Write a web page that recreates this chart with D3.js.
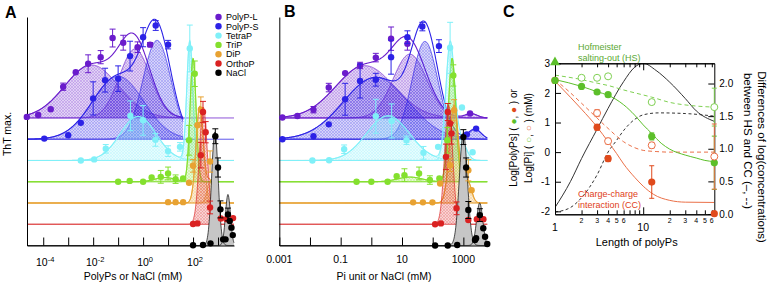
<!DOCTYPE html>
<html><head><meta charset="utf-8">
<script src="https://cdn.jsdelivr.net/npm/d3@7"></script>
<style>body{margin:0;background:#fff}svg{display:block;font-family:"Liberation Sans",Arial,Helvetica,sans-serif}</style>
</head><body><svg id="c" width="767" height="286"></svg>
<script>
// ---------- series ----------
const seriesNames = ["PolyP-L","PolyP-S","TetraP","TriP","DiP","OrthoP","NaCl"];
const seriesColors = ["#6a1ccc","#2c22e6","#80f0f8","#84e02e","#e8a232","#da2222","#000000"];
const seriesOffsets = [6,5,4,3,2,1,0];

// ---------- panel A: [conc (mM), ThT max (rel.), error] ----------
const A_PolyPL = [[2.2e-5,0.05,0],[6.3e-5,0.14,0],[2.0e-4,0.41,0],[6.3e-4,1.47,0.17],[2.0e-3,2.15,0],[6.3e-3,2.55,0.42],[0.02,2.86,0.31],[0.06,3.76,0.42],[0.16,3.54,0.35],[0.6,3.33,0.25],[1.9,3.45,0.1]];
const A_PolyPS = [[1.1e-4,0.03,0],[1.0e-3,0.19,0],[3.2e-3,0.77,0],[0.01,1.92,0.78],[0.03,2.78,0.56],[0.1,2.85,0.6],[0.3,3.91,0.7],[1.0,4.8,0.45],[3.2,5.35,0.23],[10,4.45,0.2]];
const A_TetraP = [[3.2e-3,0,0],[0.011,0.05,0],[0.032,0.55,0.2],[0.31,2.1,0.7],[1.0,1.89,0.7],[3.1,0.97,0.3],[10,0.44,0.25],[30,0.64,0.2],[74,5.27,1.1]];
const A_TriP = [[0.1,0,0],[0.29,0.04,0],[1.0,0,0],[2.2,0.2,0],[5.1,0.23,0.3],[10,0.39,0.3],[20,0.12,0.2],[40,0.15,0],[69,1.95,0.7],[117,5.08,0.6]];
const A_DiP = [[10,0.04,0],[20,0.04,0],[40,0.04,0],[69,0.95,0],[100,1.75,0.3],[150,3.66,0],[205,4.39,0.6],[480,1.95,0.5]];
const A_OrthoP = [[100,0.01,0],[150,0.04,0],[205,3.25,0.6],[250,5.28,0.5],[320,4.33,0.5],[480,0.79,0.3],[1300,0.27,0],[2200,0.24,0],[4000,0.29,0]];
const A_NaCl = [[100,0.01,0],[250,0.02,0],[500,0.1,0],[780,5.14,0.35],[1000,3.67,0.45],[1250,1.7,0.4],[1600,0.29,0],[2000,0.29,0],[2500,1.46,0.3],[2950,1.15,0],[3450,0.84,0],[3900,0.49,0]];
// Gaussian (log-x) fit components: [centre (mM), height, width (decades)]
const A_fit_PolyPL = [[8.7e-3,2.49,1.08],[0.47,3.24,0.62]];
const A_fit_PolyPS = [[0.1,2.96,1.02],[3.6,4.65,0.56]];
const A_fit_TetraP = [[0.63,2.07,0.72],[74,5.6,0.12]];
const A_fit_TriP = [[7.4,0.2,0.4],[100,5.8,0.12]];
const A_fit_DiP = [[186,4.55,0.15],[480,1.0,0.12]];
const A_fit_OrthoP = [[260,5.5,0.16]];
const A_fit_NaCl = [[750,5.34,0.13],[2500,2.4,0.1]];
const A_fitMax = [40,40,null,null,null,null,null];
const A_ticks = [1e-4,1e-3,1e-2,1e-1,1,10,100,1000];
const A_tickLabels = [[1e-4,"-4"],[1e-2,"-2"],[1,"0"],[100,"2"]];

// ---------- panel B: [Pi unit or NaCl (mM), ThT max, error] ----------
const B_PolyPL = [[1.26e-3,0.02,0],[3.9e-3,0.09,0],[0.013,0.39,0.15],[0.041,1.43,0.2],[0.14,2.11,0],[0.43,2.47,0.15],[1.4,2.84,0.2],[4.4,3.73,0.55],[15,3.49,0.3],[1650,0.21,0]];
const B_PolyPS = [[1.26e-3,0,0],[0.013,0.14,0],[0.041,0.7,0],[0.14,1.88,0.75],[0.43,2.74,0.8],[1.4,2.8,0.3],[4.4,3.86,0.8],[15,4.8,0.3],[46,5.3,0.2],[160,4.38,0.3],[1300,0.23,0],[2600,0.5,0]];
const B_TetraP = [[0.012,0,0],[0.042,0.01,0],[0.13,0.53,0.2],[1.4,2.08,0.8],[4.6,1.86,0.8],[14,0.95,0.2],[50,0.36,0.3],[150,0.64,0],[370,5.3,1.2],[900,2.49,0],[2000,0.39,0]];
const B_TriP = [[0.33,0,0],[1.0,0,0],[3.4,0,0],[6.7,0.26,0],[12,0.31,0.3],[36,0.39,0.3],[81,0.08,0.2],[165,0.15,0],[300,1.95,0.6],[470,5.0,0.5]];
const B_DiP = [[23,0.03,0],[48,0.03,0],[98,0.03,0],[175,0.92,0],[370,1.78,0.3],[500,4.36,0.5],[1450,1.54,0.5],[1850,0.6,0]];
const B_OrthoP = [[120,0,0],[185,0.04,0],[270,3.17,0.6],[310,5.28,0.4],[370,4.74,0],[410,4.27,0.5],[600,0.75,0.3],[1450,0.2,0],[2750,0.24,0],[4500,0.24,0]];
const B_NaCl = [[120,0,0],[310,0,0],[630,0.02,0],[1000,5.1,0.35],[1230,3.67,0.45],[1450,1.67,0.4],[2400,0.26,0],[2600,0.34,0],[3450,1.43,0.3],[4450,0.81,0],[5100,0.41,0],[6000,0.07,0]];
const B_fit_PolyPL = [[0.62,2.46,0.95],[18,3.0,0.55],[1800,0.2,0.2]];
const B_fit_PolyPS = [[1.4,2.91,1.06],[56,4.6,0.42],[2400,0.45,0.2]];
const B_fit_TetraP = [[3.5,2.1,0.7],[370,5.4,0.14],[800,1.0,0.18]];
const B_fit_TriP = [[18,0.22,0.4],[430,5.8,0.12]];
const B_fit_DiP = [[500,4.6,0.15],[1400,1.0,0.12]];
const B_fit_OrthoP = [[330,5.6,0.13]];
const B_fit_NaCl = [[1000,5.3,0.13],[3400,2.0,0.1]];
const B_fitMax = [null,null,null,null,null,null,null];
const B_ticks = [1e-3,1e-2,1e-1,1,10,100,1000];
const B_tickLabels = [[1e-3,"0.001"],[0.1,"0.1"],[10,"10"],[1000,"1000"]];

// ---------- panel C: [length, log conc, error] ----------
const C_greenFilled = [[1,2.42,0],[2,2.22,0],[3,2.03,0],[4,1.94,0],[12.5,0.53,0.12],[64,-0.36,0.9]];
const C_greenOpen = [[2,2.51,0],[3,2.51,0],[4,2.56,0],[12.5,1.69,0.08],[64,1.52,0.64]];
const C_redFilled = [[1,2.42,0],[3,0.84,0.1],[4,-0.22,0.1],[12.5,-1.01,0.55],[64,-2.08,0]];
const C_redOpen = [[3,1.32,0.12],[4,0.37,0.1],[12.5,0.23,0.1],[64,-0.15,1.1]];
const C_HS_solid = [[1,2.45],[2,2.22],[3,2.04],[4,1.92],[6,1.6],[8,1.25],[10,0.92],[12.4,0.64],[16,0.3],[20,0.1],[30,-0.1],[40,-0.2],[50,-0.28],[64,-0.32]];
const C_HS_dashed = [[1,2.6],[2,2.45],[3,2.33],[4,2.25],[6,2.1],[10,1.93],[12.4,1.86],[20,1.68],[38.7,1.56],[64,1.52]];
const C_CC_solid = [[1,2.4],[1.5,1.85],[2,1.45],[3,0.85],[4,0.35],[5,-0.05],[6,-0.4],[8,-0.85],[10,-1.15],[13,-1.42],[20,-1.63],[30,-1.69],[64,-1.7]];
const C_CC_dashed = [[1,2.45],[1.5,2.0],[2,1.65],[3,1.15],[4,0.8],[6,0.35],[8,0.15],[10,0.06],[14,0.02],[20,0],[64,0]];
const C_diff_solid = [[1,0.1],[1.5,0.5],[2,0.85],[3,1.3],[4,1.62],[6,2.03],[8,2.25],[10,2.31],[14,2.2],[20,2.02],[30,1.77],[40,1.58],[64,1.42]];
const C_diff_dashed = [[1,0.03],[1.5,0.1],[2,0.25],[3,0.6],[4,0.95],[5,1.13],[6,1.28],[8,1.45],[10,1.52],[15,1.55],[30,1.54],[64,1.5]];
const C_leftTicks = [-2,-1,0,1,2,3];
const C_rightTicks = [0,0.5,1,1.5,2];
const C_major = [1,10];
const C_minor = [2,3,4,5,6,7,8,9,20,30,40,50,60];
const C_minorLabels = [2,3,4,5,6,20,30,40,50,60];

// ---------- drawing ----------
const svg = d3.select("#c");
const defs = svg.append("defs");
seriesColors.forEach((c,i)=>{
  const p = defs.append("pattern").attr("id","pat"+i).attr("width",3).attr("height",3).attr("patternUnits","userSpaceOnUse");
  p.append("rect").attr("width",3).attr("height",3).attr("fill",c).attr("opacity",0.2);
  p.append("path").attr("d","M0,0L3,3M3,0L0,3").attr("stroke",c).attr("stroke-width",0.5).attr("opacity",0.4);
});

const yT = d3.scaleLinear().domain([0,10.75]).range([245.5,17]);
const xA = d3.scaleLog().domain([2.24e-5,4365]).range([27,234]);
const xB = d3.scaleLog().domain([1e-3,6026]).range([279.3,487.3]);
const gauss = (c,v)=> c[1]*Math.exp(-Math.pow(Math.log10(v/c[0]),2)/(2*c[2]*c[2]));

function drawPanel(x, pts, fits, fitMax, ticks, tickLabels, supers) {
  const g = svg.append("g");
  const [r0,r1] = x.range();
  seriesOffsets.forEach((o,i)=>{ if(o>0) g.append("line").attr("x1",r0).attr("x2",r1).attr("y1",yT(o)).attr("y2",yT(o)).attr("stroke",seriesColors[i]).attr("stroke-width",1).attr("opacity",0.75); });
  fits.forEach((comps,i)=>{
    const o = seriesOffsets[i], col = seriesColors[i];
    const lo = Math.log10(x.domain()[0]), hi = Math.log10(fitMax[i] || x.domain()[1]);
    const xs = d3.range(0,601).map(k=>Math.pow(10, lo+(hi-lo)*k/600));
    comps.forEach(c=>{
      const area = d3.area().x(v=>x(v)).y0(yT(o)).y1(v=>yT(o+gauss(c,v)));
      g.append("path").attr("d",area(xs)).attr("fill", i===6 ? "#c6c6c6" : `url(#pat${i})`);
    });
    comps.forEach(c=>{
      const line = d3.line().x(v=>x(v)).y(v=>yT(o+gauss(c,v)));
      g.append("path").attr("d",line(xs)).attr("fill","none").attr("stroke",col).attr("stroke-width",0.8).attr("opacity",0.85);
    });
    if (comps.length>1 && i!==6) {
      const line = d3.line().x(v=>x(v)).y(v=>yT(o+d3.sum(comps,c=>gauss(c,v))));
      g.append("path").attr("d",line(xs)).attr("fill","none").attr("stroke",col).attr("stroke-width",1.1);
    }
  });
  // axes
  const ax = g.append("g").attr("transform",`translate(0,${yT(0)})`)
    .call(d3.axisBottom(x).tickValues(ticks).tickFormat("").tickSizeInner(-8).tickSizeOuter(0));
  const ay = g.append("g").attr("transform",`translate(${r0},0)`)
    .call(d3.axisLeft(yT).tickValues([]).tickSizeOuter(0));
  [ax,ay].forEach(a=>{a.selectAll("path,line").attr("stroke","#000").attr("stroke-width",1);});
  tickLabels.forEach(([v,lab])=>{
    const t = g.append("text").attr("x",x(v)+(supers?2:0)).attr("y",supers?266:263).attr("text-anchor","middle").attr("font-size",10.5);
    if (supers) { t.append("tspan").text("10"); t.append("tspan").attr("dy",-4.5).attr("font-size",7.5).text(lab); }
    else t.text(lab);
  });
  // points
  pts.forEach((arr,i)=>{
    const o = seriesOffsets[i], col = seriesColors[i];
    arr.filter(d=>d[2]>0).forEach(d=>{
      const cx = x(d[0]), ya = yT(o+d[1]-d[2]), yb = yT(o+d[1]+d[2]);
      g.append("path").attr("d",`M${cx},${ya}V${yb}M${cx-3},${ya}H${cx+3}M${cx-3},${yb}H${cx+3}`).attr("stroke",col).attr("stroke-width",1).attr("fill","none");
    });
    g.selectAll(null).data(arr).join("circle").attr("cx",d=>x(d[0])).attr("cy",d=>yT(o+d[1])).attr("r",3.2).attr("fill",col);
  });
  return g;
}

const gA = drawPanel(xA,[A_PolyPL,A_PolyPS,A_TetraP,A_TriP,A_DiP,A_OrthoP,A_NaCl],
  [A_fit_PolyPL,A_fit_PolyPS,A_fit_TetraP,A_fit_TriP,A_fit_DiP,A_fit_OrthoP,A_fit_NaCl],A_fitMax,A_ticks,A_tickLabels,true);
const gB = drawPanel(xB,[B_PolyPL,B_PolyPS,B_TetraP,B_TriP,B_DiP,B_OrthoP,B_NaCl],
  [B_fit_PolyPL,B_fit_PolyPS,B_fit_TetraP,B_fit_TriP,B_fit_DiP,B_fit_OrthoP,B_fit_NaCl],B_fitMax,B_ticks,B_tickLabels,false);

// legend
seriesNames.forEach((n,i)=>{
  const yy = 17 + 9.3*i;
  svg.append("circle").attr("cx",218.5).attr("cy",yy).attr("r",3.2).attr("fill",seriesColors[i]);
  svg.append("text").attr("x",226).attr("y",yy+3.2).attr("font-size",9).text(n);
});

// labels A/B
svg.append("text").attr("x",5).attr("y",18).attr("font-size",16).attr("font-weight","bold").text("A");
svg.append("text").attr("x",284).attr("y",17).attr("font-size",16).attr("font-weight","bold").text("B");
svg.append("text").attr("x",503).attr("y",17).attr("font-size",16).attr("font-weight","bold").text("C");
svg.append("text").attr("transform","translate(11,134) rotate(-90)").attr("text-anchor","middle").attr("font-size",10.5).text("ThT max.");
svg.append("text").attr("x",133).attr("y",280).attr("text-anchor","middle").attr("font-size",10.5).text("PolyPs or NaCl (mM)");
svg.append("text").attr("x",384).attr("y",280).attr("text-anchor","middle").attr("font-size",10.5).text("Pi unit or NaCl (mM)");

// ---------- panel C ----------
const xC = d3.scaleLog().domain([1,64]).range([555,714.3]);
const yCL = d3.scaleLinear().domain([-2.1,3]).range([214.3,63.3]);
const yCR = d3.scaleLinear().domain([0,2.31]).range([214,63.3]);
const gC = svg.append("g");
defs.append("clipPath").attr("id","clipC").append("rect").attr("x",555).attr("y",63.3).attr("width",159.3).attr("height",151);
const green = "#5cbf2a", greenL = "#7fd052", red = "#e04a1c", redL = "#ea7048";
const curves = gC.append("g").attr("clip-path","url(#clipC)");
const lineL = d3.line().x(d=>xC(d[0])).y(d=>yCL(d[1])).curve(d3.curveMonotoneX);
const lineR = d3.line().x(d=>xC(d[0])).y(d=>yCR(d[1])).curve(d3.curveMonotoneX);
curves.append("path").attr("d",lineR(C_diff_solid)).attr("fill","none").attr("stroke","#333").attr("stroke-width",1);
curves.append("path").attr("d",lineR(C_diff_dashed)).attr("fill","none").attr("stroke","#333").attr("stroke-width",1).attr("stroke-dasharray","3,2.5");
curves.append("path").attr("d",lineL(C_HS_dashed)).attr("fill","none").attr("stroke",greenL).attr("stroke-width",1).attr("stroke-dasharray","4,3");
curves.append("path").attr("d",lineL(C_CC_dashed)).attr("fill","none").attr("stroke",redL).attr("stroke-width",1).attr("stroke-dasharray","4,3");
curves.append("path").attr("d",lineL(C_HS_solid)).attr("fill","none").attr("stroke",green).attr("stroke-width",1);
curves.append("path").attr("d",lineL(C_CC_solid)).attr("fill","none").attr("stroke",redL).attr("stroke-width",1);

// axes C
const axL = gC.append("g").attr("transform","translate(555,0)").call(d3.axisLeft(yCL).tickValues(C_leftTicks).tickFormat(d=>String(d)).tickSizeInner(-6).tickSizeOuter(0).tickPadding(5));
const axR = gC.append("g").attr("transform","translate(714.3,0)").call(d3.axisRight(yCR).tickValues(C_rightTicks).tickFormat(d=>d.toFixed(1)).tickSizeInner(-6).tickSizeOuter(0).tickPadding(5));
const axB1 = gC.append("g").attr("transform",`translate(0,${yCL(-2.1)})`).call(d3.axisBottom(xC).tickValues(C_major).tickFormat("").tickSizeInner(-7).tickSizeOuter(0));
const axB2 = gC.append("g").attr("transform",`translate(0,${yCL(-2.1)})`).call(d3.axisBottom(xC).tickValues(C_minor).tickFormat("").tickSizeInner(-4).tickSizeOuter(0));
const axT1 = gC.append("g").attr("transform",`translate(0,${yCL(3)})`).call(d3.axisTop(xC).tickValues(C_major).tickFormat("").tickSizeInner(-7).tickSizeOuter(0));
const axT2 = gC.append("g").attr("transform",`translate(0,${yCL(3)})`).call(d3.axisTop(xC).tickValues(C_minor).tickFormat("").tickSizeInner(-4).tickSizeOuter(0));
[axL,axR,axB1,axB2,axT1,axT2].forEach(a=>{a.selectAll("path,line").attr("stroke","#000").attr("stroke-width",1);a.selectAll("text").attr("font-size",10).attr("fill","#000").attr("font-family",null);});
C_major.forEach(v=>gC.append("text").attr("x",xC(v)).attr("y",231).attr("text-anchor","middle").attr("font-size",10.5).text(v));
C_minorLabels.forEach(v=>gC.append("text").attr("x",xC(v)).attr("y",222.5).attr("text-anchor","middle").attr("font-size",7).text(String(v)[0]));

// points C
function errs(arr, col){ arr.filter(d=>d[2]>0).forEach(d=>{ const cx=xC(d[0]), ya=yCL(d[1]-d[2]), yb=yCL(d[1]+d[2]);
  gC.append("path").attr("d",`M${cx},${ya}V${yb}M${cx-2.5},${ya}H${cx+2.5}M${cx-2.5},${yb}H${cx+2.5}`).attr("stroke",col).attr("stroke-width",1).attr("fill","none"); }); }
errs(C_greenOpen,greenL); errs(C_greenFilled,green); errs(C_redOpen,redL); errs(C_redFilled,red);
gC.selectAll(null).data(C_redFilled).join("circle").attr("cx",d=>xC(d[0])).attr("cy",d=>yCL(d[1])).attr("r",3.6).attr("fill",red);
gC.selectAll(null).data(C_greenFilled).join("circle").attr("cx",d=>xC(d[0])).attr("cy",d=>yCL(d[1])).attr("r",3.6).attr("fill",green);
gC.selectAll(null).data(C_greenOpen).join("circle").attr("cx",d=>xC(d[0])).attr("cy",d=>yCL(d[1])).attr("r",3.5).attr("fill","#fff").attr("stroke",greenL).attr("stroke-width",1);
gC.selectAll(null).data(C_redOpen).join("circle").attr("cx",d=>xC(d[0])).attr("cy",d=>yCL(d[1])).attr("r",3.5).attr("fill","#fff").attr("stroke",redL).attr("stroke-width",1);
gC.append("path").attr("d",d3.symbol(d3.symbolTriangle,42)()).attr("transform",`translate(${xC(1)},${yCL(3)-1})`).attr("fill",green);

// texts C
gC.append("text").attr("x",578).attr("y",50).attr("font-size",9).attr("fill","#5aa832").text("Hofmeister");
gC.append("text").attr("x",578).attr("y",60.5).attr("font-size",9).attr("fill","#5aa832").text("salting-out (HS)");
gC.append("text").attr("x",578).attr("y",197).attr("font-size",9).attr("fill","#e04020").text("Charge-charge");
gC.append("text").attr("x",578).attr("y",208).attr("font-size",9).attr("fill","#e04020").text("interaction (CC)");
gC.append("text").attr("x",636.7).attr("y",245.5).attr("text-anchor","middle").attr("font-size",11).text("Length of polyPs");
const l1 = gC.append("text").attr("transform","translate(517,138) rotate(-90)").attr("text-anchor","middle").attr("font-size",10);
l1.append("tspan").text("Log[PolyPs] ( "); l1.append("tspan").attr("fill",green).text("●"); l1.append("tspan").text(", ");
l1.append("tspan").attr("fill",red).text("●"); l1.append("tspan").text(" ) or");
const l2 = gC.append("text").attr("transform","translate(532,138) rotate(-90)").attr("text-anchor","middle").attr("font-size",10);
l2.append("tspan").text("Log[Pi] ( "); l2.append("tspan").attr("fill",greenL).text("○"); l2.append("tspan").text(", ");
l2.append("tspan").attr("fill",redL).text("○"); l2.append("tspan").text(" ) (mM)");
gC.append("text").attr("transform","translate(758,157) rotate(90)").attr("text-anchor","middle").attr("font-size",11.5).text("Differences of log(concentrations)");
gC.append("text").attr("transform","translate(744,141) rotate(90)").attr("text-anchor","middle").attr("font-size",11.5).text("between HS and CC (–, --)");
</script></body></html>
